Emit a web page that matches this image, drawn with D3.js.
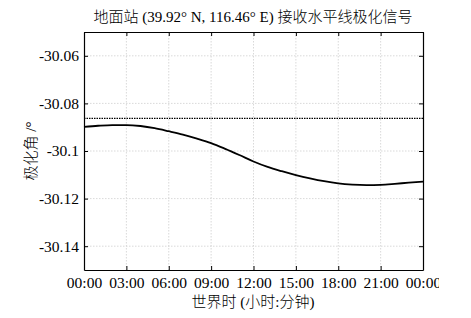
<!DOCTYPE html>
<html>
<head>
<meta charset="utf-8">
<script src="https://cdn.jsdelivr.net/npm/d3@7"></script>
<style>
  body { margin: 0; background: #fff; }
  svg { font-family: "Liberation Serif", "Noto Sans CJK SC", serif; }
</style>
</head>
<body>
<svg id="chart" width="471" height="318"></svg>
<script>
// hours since 00:00 UTC and received polarisation angle (deg)
const hours = [0,1,2,3,4,5,6,7,8,9,10,11,12,13,14,15,16,17,18,19,20,21,22,23,24];
const polAngle = [-30.0899,-30.0894,-30.0891,-30.0891,-30.0895,-30.0904,-30.0917,-30.0931,-30.0948,-30.0967,
                  -30.0991,-30.1017,-30.1044,-30.1067,-30.1085,-30.1101,-30.1115,-30.1127,-30.1136,-30.1141,
                  -30.1143,-30.1142,-30.1138,-30.1133,-30.1129];
const refAngle = -30.0863;   // dotted reference line
const xTickHours = [0,3,6,9,12,15,18,21,24];
const xTickLabels = ["00:00","03:00","06:00","09:00","12:00","15:00","18:00","21:00","00:00"];
const yTicks = [-30.14,-30.12,-30.1,-30.08,-30.06];

const svg = d3.select("svg#chart");
const mLeft = 84, mRight = 423, mTop = 32, mBottom = 270;

const x = d3.scaleLinear().domain([0, 24]).range([mLeft, mRight]);
const y = d3.scaleLinear().domain([-30.15, -30.05]).range([mBottom, mTop]);

// grid
const grid = svg.append("g").attr("class", "grid");
grid.selectAll("line.vg").data(xTickHours.slice(1, -1)).join("line")
    .attr("x1", d => x(d)).attr("x2", d => x(d))
    .attr("y1", mTop).attr("y2", mBottom)
    .attr("stroke", "#cfcfcf").attr("stroke-width", 0.8).attr("stroke-dasharray", "1.5,1.5");
grid.selectAll("line.hg").data(yTicks).join("line")
    .attr("x1", mLeft).attr("x2", mRight)
    .attr("y1", d => y(d)).attr("y2", d => y(d))
    .attr("stroke", "#cfcfcf").attr("stroke-width", 0.8).attr("stroke-dasharray", "1.5,1.5");

// axes
const fmtY = d => String(+d.toFixed(2));
svg.append("g").attr("transform", "translate(0," + mBottom + ")")
   .call(d3.axisBottom(x).tickValues(xTickHours).tickSizeInner(-4).tickSizeOuter(0)
         .tickPadding(7).tickFormat((d, i) => xTickLabels[i]));
svg.append("g").attr("transform", "translate(0," + mTop + ")")
   .call(d3.axisTop(x).tickValues(xTickHours).tickSizeInner(-4).tickSizeOuter(0).tickFormat(""));
svg.append("g").attr("transform", "translate(" + mLeft + ",0)")
   .call(d3.axisLeft(y).tickValues(yTicks).tickSizeInner(-4).tickSizeOuter(0)
         .tickPadding(5).tickFormat(fmtY));
svg.append("g").attr("transform", "translate(" + mRight + ",0)")
   .call(d3.axisRight(y).tickValues(yTicks).tickSizeInner(-4).tickSizeOuter(0).tickFormat(""));

svg.selectAll(".domain").attr("stroke", "#000").attr("stroke-width", 1.2);
svg.selectAll(".tick line").attr("stroke", "#000");
svg.selectAll(".tick text").attr("font-size", 15.5).attr("font-family", "Liberation Serif").attr("fill", "#000");

// reference line
svg.append("line")
   .attr("x1", x(0)).attr("x2", x(24))
   .attr("y1", y(refAngle)).attr("y2", y(refAngle))
   .attr("stroke", "#000").attr("stroke-width", 1.2).attr("stroke-dasharray", "1.5,1");

// curve
const line = d3.line().x((d, i) => x(hours[i])).y(d => y(d)).curve(d3.curveMonotoneX);
svg.append("path").datum(polAngle)
   .attr("d", line).attr("fill", "none").attr("stroke", "#000").attr("stroke-width", 1.8);

// titles
svg.append("text").attr("x", 253).attr("y", 22).attr("text-anchor", "middle")
   .attr("font-size", 15).attr("font-weight", 300).text("地面站 (39.92° N, 116.46° E) 接收水平线极化信号");
svg.append("text").attr("x", 253).attr("y", 307).attr("text-anchor", "middle")
   .attr("font-size", 15).attr("font-weight", 300).text("世界时 (小时:分钟)");
svg.append("text").attr("transform", "translate(36," + y(-30.1) + ") rotate(-90)")
   .attr("text-anchor", "middle").attr("font-size", 15).attr("font-weight", 300).text("极化角 /°");

// the source figure is cut off just right of the last tick label
svg.append("rect").attr("x", 439).attr("y", 272).attr("width", 32).attr("height", 46).attr("fill", "#fff");
</script>
</body>
</html>
